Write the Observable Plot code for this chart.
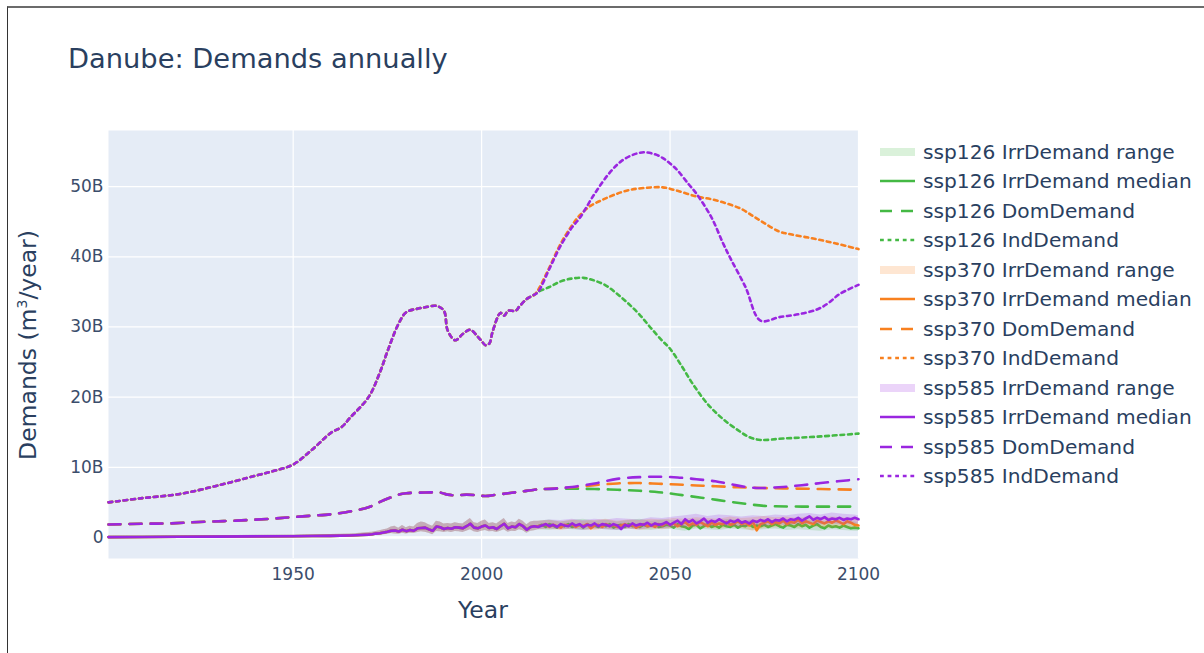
<!DOCTYPE html>
<html>
<head>
<meta charset="utf-8">
<script src="https://cdn.jsdelivr.net/npm/d3@7"></script>
<script src="https://cdn.jsdelivr.net/npm/@observablehq/plot@0.6"></script>
<style>
  body { margin: 0; background: #fff; }
  #fig { position: relative; width: 1204px; height: 653px; font-family: "DejaVu Sans", Verdana, sans-serif; color: #2a3f5f; overflow: hidden; }
  #frame { position: absolute; left: 7px; top: 6px; right: 0; bottom: 0; border-top: 2px solid #6b6b6b; border-left: 1px solid #333; pointer-events: none; }
  #title { position: absolute; left: 68px; top: 43px; font-size: 27.3px; white-space: nowrap; }
  #xtitle { position: absolute; left: 483px; top: 596px; transform: translateX(-50%); font-size: 23.5px; white-space: nowrap; }
  #ytitle { position: absolute; left: 28px; top: 345px; transform: translate(-50%, -50%) rotate(-90deg); font-size: 23.5px; white-space: nowrap; }
  #ytitle sup { font-size: 14px; vertical-align: 9px; line-height: 0; }
  #legend { position: absolute; left: 878px; top: 137px; }
  .item { height: 29.5px; display: flex; align-items: center; font-size: 20.2px; white-space: nowrap; }
  .item svg { width: 40px; height: 20px; margin-right: 5px; flex: none; }
  #chart { position: absolute; left: 0; top: 0; }
</style>
</head>
<body>
<div id="fig">
  <div id="chart"></div>
  <div id="frame"></div>
  <div id="title">Danube: Demands annually</div>
  <div id="xtitle">Year</div>
  <div id="ytitle">Demands (m<sup>3</sup>/year)</div>
  <div id="legend"></div>
</div>
<script>
// Annual water demands for the Danube basin, in billion m³ per year.
const scenarios = ["ssp126", "ssp370", "ssp585"];
const colors = ["#44b944", "#f8801f", "#9a26e0"];
const xTicks = [1950, 2000, 2050, 2100];
const yTicks = [0, 10, 20, 30, 40, 50];

// Irrigation demand, historical period (shared by every scenario)
const histIrrYears = [1901, 1910, 1920, 1930, 1940, 1950, 1955, 1960, 1965, 1968, ...d3.range(1970, 2015)];
const histIrrMedian = [0.05, 0.07, 0.1, 0.12, 0.15, 0.18, 0.2, 0.22, 0.28, 0.35,
  0.4, 0.45, 0.55, 0.6, 0.7, 0.8, 0.95, 1.0, 0.85, 1.1,
  0.9, 1.05, 0.95, 1.3, 1.35, 1.4, 1.15, 0.95, 1.55, 1.45,
  1.2, 1.35, 1.25, 1.45, 1.4, 1.3, 1.6, 1.95, 1.4, 1.3,
  1.55, 1.7, 1.35, 1.45, 1.2, 1.6, 1.95, 1.3, 1.55, 1.45,
  1.9, 1.6, 1.1, 1.5, 1.6];
const histIrrLow = [0.0, 0.0, 0.02, 0.03, 0.04, 0.05, 0.06, 0.07, 0.1, 0.15,
  0.2, 0.25, 0.3, 0.35, 0.4, 0.45, 0.55, 0.5, 0.45, 0.6,
  0.5, 0.6, 0.55, 0.7, 0.8, 0.75, 0.6, 0.4, 0.85, 0.8,
  0.7, 0.8, 0.7, 0.85, 0.8, 0.7, 0.9, 1.1, 0.8, 0.7,
  0.9, 1.0, 0.8, 0.85, 0.7, 0.9, 1.1, 0.75, 0.9, 0.85,
  1.1, 0.95, 0.6, 0.9, 0.95];
const histIrrHigh = [0.15, 0.18, 0.22, 0.25, 0.3, 0.35, 0.38, 0.42, 0.5, 0.6,
  0.7, 0.75, 0.85, 0.95, 1.1, 1.2, 1.5, 1.6, 1.3, 1.7,
  1.4, 1.6, 1.5, 2.0, 2.2, 2.1, 1.8, 1.6, 2.3, 2.2,
  1.9, 2.0, 1.9, 2.1, 2.0, 1.9, 2.3, 2.7, 2.1, 2.0,
  2.3, 2.5, 2.0, 2.1, 1.9, 2.3, 2.7, 2.0, 2.2, 2.1,
  2.6, 2.3, 1.8, 2.2, 2.3];

// Irrigation demand medians, projection years 2015–2100
const futYears = d3.range(2015, 2101);
const irrMedianSsp126 = [1.6, 1.8, 1.5, 1.9, 1.7, 1.4, 1.8, 1.6, 1.9, 1.5,
  1.7, 1.8, 1.4, 1.9, 1.6, 1.7, 1.5, 1.8, 1.6, 1.9,
  1.4, 1.7, 1.8, 1.5, 1.9, 1.6, 1.7, 1.5, 1.8, 1.6,
  1.7, 1.9, 1.5, 1.6, 1.8, 1.7, 1.4, 1.9, 1.6, 1.5,
  1.2, 1.7, 1.8, 1.3, 1.6, 1.9, 1.5, 1.7, 1.4, 1.8,
  1.6, 1.5, 1.8, 1.4, 1.7, 1.6, 1.9, 1.5, 1.7, 1.6,
  1.8, 1.5, 1.7, 1.9, 1.6, 1.4, 1.8, 1.7, 1.5, 1.9,
  1.6, 1.8, 1.4, 1.7, 1.9, 1.5, 1.3, 1.7, 1.5, 1.6,
  1.4, 1.7, 1.5, 1.3, 1.4, 1.3];
const irrMedianSsp370 = [1.6, 1.7, 1.9, 1.5, 1.8, 1.6, 1.4, 1.8, 1.7, 1.9,
  1.5, 1.8, 1.6, 1.9, 1.3, 1.7, 1.8, 1.5, 1.9, 1.6,
  1.8, 1.5, 1.7, 1.9, 1.6, 1.8, 1.4, 1.7, 1.9, 1.6,
  1.8, 1.5, 1.9, 1.7, 2.1, 1.8, 2.0, 1.6, 1.9, 2.2,
  1.7, 2.0, 1.8, 2.2, 1.9, 1.6, 2.1, 1.8, 2.0, 1.9,
  2.2, 1.8, 2.0, 2.3, 1.9, 2.1, 1.7, 2.2, 1.0, 1.9,
  2.1, 2.3, 1.9, 2.2, 2.0, 2.4, 1.9, 2.2, 2.1, 2.5,
  2.0, 2.3, 2.1, 1.9, 2.4, 2.2, 2.0, 2.3, 2.1, 2.4,
  2.2, 1.9, 2.3, 2.1, 1.8, 1.7];
const irrMedianSsp585 = [1.5, 1.7, 1.9, 1.6, 1.8, 1.5, 1.9, 1.7, 1.6, 2.0,
  1.7, 1.9, 1.5, 1.8, 1.7, 2.0, 1.6, 1.9, 1.8, 1.6,
  1.9, 1.7, 1.2, 1.8, 1.6, 2.0, 1.7, 1.9, 1.8, 2.1,
  1.7, 2.0, 1.8, 1.9, 2.2, 1.8, 2.1, 2.4, 1.9, 2.6,
  2.2, 2.5, 2.0, 2.3, 2.7, 2.1, 2.4, 2.2, 2.6, 2.3,
  2.0, 2.4, 2.2, 2.5, 2.1, 2.3, 2.0, 2.4, 2.2, 2.5,
  2.3, 2.6, 2.2, 2.5, 2.4, 2.7, 2.3, 2.6, 2.5, 2.8,
  2.4, 2.7, 3.0, 2.5, 2.8, 2.6, 2.9, 2.5, 2.7, 2.6,
  2.8, 2.5, 2.7, 2.6, 2.8, 2.6];

// Irrigation demand range (min/max across models), projection years
const futRangeYears = [...d3.range(2015, 2100, 3), 2100];
const irrLowSsp126 = [1.1, 1.0, 1.2, 1.1, 1.0, 1.2, 1.1, 1.0, 1.2, 1.1, 1.0, 1.2, 1.1, 0.9, 1.2, 1.1, 1.0, 1.2, 1.1, 1.0, 1.1, 1.2, 1.0, 1.1, 1.0, 0.9, 1.1, 1.0, 0.9, 0.9];
const irrHighSsp126 = [2.3, 2.5, 2.2, 2.4, 2.6, 2.3, 2.5, 2.2, 2.4, 2.6, 2.3, 2.5, 2.4, 2.2, 2.5, 2.3, 2.4, 2.6, 2.3, 2.5, 2.2, 2.4, 2.5, 2.3, 2.4, 2.2, 2.3, 2.1, 2.2, 2.0];
const irrLowSsp370 = [1.1, 1.2, 1.0, 1.2, 1.1, 1.0, 1.2, 1.1, 1.2, 1.0, 1.2, 1.1, 1.3, 1.2, 1.4, 1.3, 1.2, 1.4, 1.3, 0.9, 1.3, 1.4, 1.5, 1.3, 1.5, 1.4, 1.3, 1.4, 1.2, 1.2];
const irrHighSsp370 = [2.3, 2.4, 2.2, 2.5, 2.3, 2.4, 2.6, 2.3, 2.5, 2.4, 2.6, 2.5, 2.7, 2.6, 2.8, 2.7, 2.6, 2.9, 2.7, 2.8, 3.0, 2.8, 2.9, 2.7, 3.0, 2.8, 2.9, 2.8, 2.6, 2.5];
const irrLowSsp585 = [1.1, 1.2, 1.1, 1.2, 1.0, 1.2, 1.1, 1.0, 1.2, 1.1, 1.3, 1.2, 1.4, 1.5, 1.6, 1.5, 1.7, 1.6, 1.5, 1.7, 1.6, 1.8, 1.7, 1.8, 1.9, 1.8, 1.9, 1.8, 1.9, 1.9];
const irrHighSsp585 = [2.3, 2.5, 2.4, 2.6, 2.4, 2.6, 2.5, 2.7, 2.6, 2.5, 2.8, 2.7, 2.9, 3.1, 3.3, 3.0, 3.2, 3.1, 2.9, 3.1, 3.0, 3.2, 3.1, 3.3, 3.4, 3.2, 3.5, 3.3, 3.2, 3.1];

// Domestic demand
const histDomYears = [1901, 1910, 1917, 1925, 1935, 1945, 1950, 1955, 1960, 1965, 1970, 1974, 1978, 1980, 1985, 1989, 1991, 1993, 1996, 1999, 2001, 2004, 2007, 2010, 2014];
const histDom = [1.85, 1.95, 2.0, 2.2, 2.4, 2.7, 2.9, 3.1, 3.3, 3.7, 4.3, 5.3, 6.1, 6.3, 6.4, 6.4, 6.1, 6.0, 6.1, 6.0, 5.9, 6.1, 6.3, 6.5, 6.8];
const domYearsSsp126 = [2015, 2020, 2025, 2030, 2036, 2042, 2047, 2051, 2055, 2060, 2065, 2070, 2075, 2085, 2100];
const domSsp126 = [6.85, 6.95, 6.95, 6.9, 6.8, 6.65, 6.45, 6.2, 5.9, 5.55, 5.15, 4.8, 4.5, 4.4, 4.4];
const domYearsSsp370 = [2015, 2020, 2025, 2030, 2036, 2042, 2047, 2052, 2057, 2062, 2068, 2074, 2080, 2090, 2100];
const domSsp370 = [6.85, 7.0, 7.2, 7.45, 7.7, 7.75, 7.65, 7.55, 7.4, 7.3, 7.15, 7.05, 7.0, 6.9, 6.8];
const domYearsSsp585 = [2015, 2020, 2024, 2030, 2036, 2042, 2047, 2052, 2057, 2062, 2066, 2070, 2074, 2080, 2085, 2090, 2100];
const domSsp585 = [6.85, 7.0, 7.2, 7.7, 8.35, 8.6, 8.65, 8.55, 8.3, 8.0, 7.6, 7.2, 7.05, 7.2, 7.45, 7.75, 8.3];

// Industrial demand
const histIndYears = [1901, 1910, 1920, 1930, 1940, 1945, 1950, 1955, 1960, 1963, 1965, 1970, 1973, 1975, 1978, 1980, 1983, 1985, 1988, 1990, 1991, 1993, 1995, 1997, 1999, 2000, 2001, 2002, 2003, 2005, 2006, 2007, 2009, 2010, 2012, 2014];
const histInd = [5.0, 5.6, 6.2, 7.4, 8.8, 9.5, 10.4, 12.5, 14.9, 15.8, 17.0, 20.0, 23.5, 26.5, 30.5, 32.1, 32.6, 32.8, 33.0, 32.3, 29.5, 28.1, 29.0, 29.6, 28.6, 28.0, 27.4, 27.6, 29.5, 32.0, 31.6, 32.3, 32.3, 32.9, 34.0, 34.6];
const indYearsSsp126 = [2015, 2018, 2021, 2024, 2027, 2030, 2033, 2036, 2039, 2042, 2045, 2048, 2050, 2053, 2056, 2060, 2064, 2068, 2071, 2074, 2080, 2090, 2100];
const indSsp126 = [35.0, 35.7, 36.5, 36.9, 37.0, 36.6, 35.9, 34.7, 33.3, 31.7, 29.8, 28.0, 26.9, 24.5, 21.9, 19.0, 16.9, 15.3, 14.3, 13.9, 14.1, 14.4, 14.8];
const indYearsSsp370 = [2015, 2018, 2021, 2024, 2026, 2029, 2032, 2035, 2039, 2043, 2048, 2052, 2057, 2061, 2065, 2069, 2072, 2075, 2079, 2082, 2088, 2094, 2100];
const indSsp370 = [35.3, 38.5, 41.9, 44.5, 45.9, 47.3, 48.1, 48.8, 49.5, 49.8, 49.9, 49.4, 48.6, 48.2, 47.6, 46.8, 45.8, 44.8, 43.6, 43.2, 42.6, 41.9, 41.1];
const indYearsSsp585 = [2015, 2018, 2021, 2024, 2026, 2030, 2034, 2037, 2040, 2043, 2046, 2048, 2050, 2052, 2055, 2057, 2061, 2064, 2066, 2070, 2074, 2079, 2084, 2089, 2092, 2095, 2100];
const indSsp585 = [35.0, 38.3, 41.6, 44.2, 45.5, 49.0, 52.0, 53.6, 54.5, 54.9, 54.6, 54.1, 53.3, 52.3, 50.3, 49.0, 45.6, 42.0, 39.8, 35.7, 30.9, 31.4, 31.8, 32.5, 33.4, 34.7, 36.0];

const irrMedians = [irrMedianSsp126, irrMedianSsp370, irrMedianSsp585];
const irrLows = [irrLowSsp126, irrLowSsp370, irrLowSsp585];
const irrHighs = [irrHighSsp126, irrHighSsp370, irrHighSsp585];
const domYears = [domYearsSsp126, domYearsSsp370, domYearsSsp585];
const doms = [domSsp126, domSsp370, domSsp585];
const indYears = [indYearsSsp126, indYearsSsp370, indYearsSsp585];
const inds = [indSsp126, indSsp370, indSsp585];

const pts = (years, values) => years.map((x, i) => ({x, y: values[i]}));
const band = (years, lo, hi) => years.map((x, i) => ({x, lo: lo[i], hi: hi[i]}));

const lineWidth = 2.6;
const dashPattern = "12,9";
const dotPattern = "3.8,3.8";

const seriesMarks = scenarios.flatMap((s, k) => {
  const color = colors[k];
  const rangeRows = band(histIrrYears, histIrrLow, histIrrHigh).concat(band(futRangeYears, irrLows[k], irrHighs[k]));
  const medianRows = pts(histIrrYears, histIrrMedian).concat(pts(futYears, irrMedians[k]));
  const domRows = pts(histDomYears, histDom).concat(pts(domYears[k], doms[k]));
  const indRows = pts(histIndYears, histInd).concat(pts(indYears[k], inds[k]));
  return [
    Plot.areaY(rangeRows, {x: "x", y1: "lo", y2: "hi", fill: color, fillOpacity: 0.2}),
    Plot.line(medianRows, {x: "x", y: "y", stroke: color, strokeWidth: lineWidth}),
    Plot.line(domRows, {x: "x", y: "y", stroke: color, strokeWidth: lineWidth, strokeDasharray: dashPattern, curve: "catmull-rom"}),
    Plot.line(indRows, {x: "x", y: "y", stroke: color, strokeWidth: lineWidth, strokeDasharray: dotPattern, curve: "catmull-rom"})
  ];
});

const chart = Plot.plot({
  width: 1204,
  height: 653,
  marginLeft: 108,
  marginRight: 346,
  marginTop: 130,
  marginBottom: 95,
  style: {fontFamily: "DejaVu Sans, Verdana, sans-serif", fontSize: "17px", color: "#2a3f5f", background: "transparent"},
  x: {domain: [1901, 2100]},
  y: {domain: [-3, 58]},
  marks: [
    Plot.frame({fill: "#E5ECF6", stroke: null}),
    Plot.gridY(yTicks, {stroke: "#fff", strokeOpacity: 1, strokeWidth: 1.2}),
    Plot.gridX(xTicks, {stroke: "#fff", strokeOpacity: 1, strokeWidth: 1.2}),
    Plot.ruleY([0], {stroke: "#fff", strokeWidth: 2.4}),
    ...seriesMarks,
    Plot.axisX(xTicks, {tickSize: 0, tickPadding: 9, tickFormat: d => String(d), label: null, fill: "#3b4d6b"}),
    Plot.axisY(yTicks, {tickSize: 0, tickPadding: 5, tickFormat: d => d === 0 ? "0" : d + "B", label: null, fill: "#3b4d6b"})
  ]
});
document.getElementById("chart").appendChild(chart);

// Legend: one entry per trace, in drawing order
const legendKinds = [
  {suffix: "IrrDemand range", kind: "range"},
  {suffix: "IrrDemand median", kind: "solid"},
  {suffix: "DomDemand", kind: "dash"},
  {suffix: "IndDemand", kind: "dot"}
];
const legend = document.getElementById("legend");
scenarios.forEach((s, k) => {
  legendKinds.forEach(({suffix, kind}) => {
    const item = document.createElement("div");
    item.className = "item";
    const c = colors[k];
    let sw;
    if (kind === "range") {
      sw = `<rect x="2" y="6" width="35" height="8" fill="${c}" fill-opacity="0.2"/>`;
    } else {
      const dash = kind === "dash" ? dashPattern : kind === "dot" ? dotPattern : "none";
      sw = `<line x1="2" x2="37" y1="10" y2="10" stroke="${c}" stroke-width="${lineWidth}" stroke-dasharray="${dash}"/>`;
    }
    item.innerHTML = `<svg viewBox="0 0 40 20">${sw}</svg><span>${s} ${suffix}</span>`;
    legend.appendChild(item);
  });
});
</script>
</body>
</html>
